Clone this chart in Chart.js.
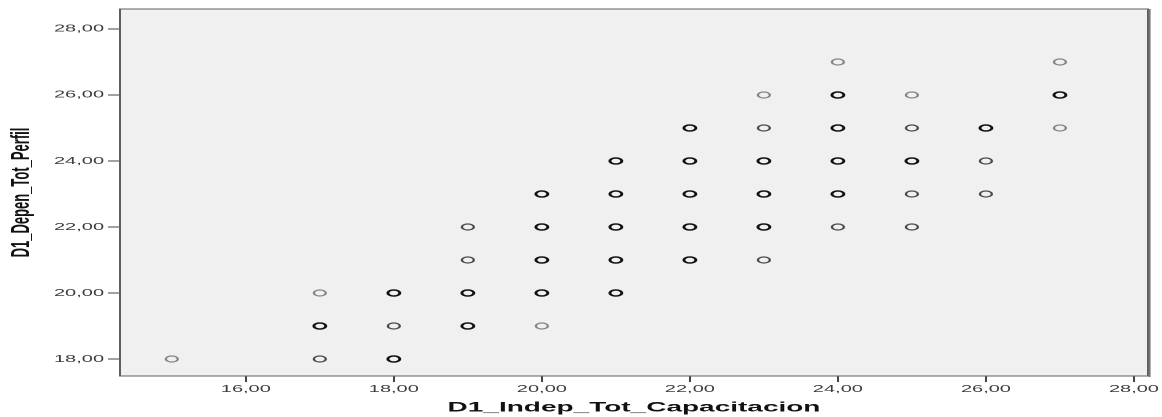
<!DOCTYPE html>
<html>
<head>
<meta charset="utf-8">
<script src="https://cdn.jsdelivr.net/npm/chart.js@4"></script>
<style>
  html, body { margin: 0; padding: 0; background: #fff; overflow: hidden; }
  /* the source picture is stretched 2x sideways, so draw at half width and stretch */
  #wrap { width: 581px; height: 417px; transform: scaleX(2); transform-origin: 0 0; }
  canvas { display: block; }
</style>
</head>
<body>
<div id="wrap"><canvas id="scatter" width="581" height="417"></canvas></div>
<script>
// one entry per plotted position; counts = rough number of overlapping cases (darker = more)
const xVals  = [15, 17, 17, 17, 18, 18, 18, 19, 19, 19, 19, 20, 20, 20, 20, 20, 21, 21, 21, 21, 21,
                22, 22, 22, 22, 22, 23, 23, 23, 23, 23, 23, 24, 24, 24, 24, 24, 24, 25, 25, 25, 25, 25,
                26, 26, 26, 27, 27, 27];
const yVals  = [18, 20, 19, 18, 20, 19, 18, 22, 21, 20, 19, 23, 22, 21, 20, 19, 24, 23, 22, 21, 20,
                25, 24, 23, 22, 21, 26, 25, 24, 23, 22, 21, 27, 26, 25, 24, 23, 22, 26, 25, 24, 23, 22,
                25, 24, 23, 27, 26, 25];
const counts = [1, 1, 3, 2, 3, 2, 3, 2, 2, 3, 3, 3, 3, 3, 3, 1, 3, 3, 3, 3, 3,
                3, 3, 3, 3, 3, 1, 2, 3, 3, 3, 2, 1, 3, 3, 3, 3, 2, 1, 2, 3, 2, 2,
                3, 2, 2, 1, 3, 1];
const xTicks = [16, 18, 20, 22, 24, 26, 28];
const yTicks = [18, 20, 22, 24, 26, 28];
const xTitle = 'D1_Indep_Tot_Capacitacion';
const yTitle = 'D1_Depen_Tot_Perfil';

const shade = c => c >= 3 ? '#111111' : c === 2 ? '#4a4a4a' : '#858585';
const fmt = v => v.toFixed(2).replace('.', ',');
const FONT = "'Liberation Sans', Arial, sans-serif";

const plotBg = {
  id: 'plotBg',
  beforeDraw(chart) {
    const { ctx, chartArea: a } = chart;
    ctx.save();
    ctx.fillStyle = '#f0f0f0';
    ctx.fillRect(a.left, a.top, a.right - a.left, a.bottom - a.top);
    ctx.restore();
  },
  afterDraw(chart) {
    const { ctx, chartArea: a } = chart;
    ctx.save();
    ctx.strokeStyle = '#5e5e5e';
    ctx.lineWidth = 1;
    ctx.strokeRect(a.left, a.top, a.right - a.left, a.bottom - a.top);
    ctx.strokeStyle = '#777';
    ctx.beginPath();
    ctx.moveTo(a.right + 0.8, a.top);
    ctx.lineTo(a.right + 0.8, a.bottom + 1);
    ctx.stroke();
    ctx.restore();
  }
};

new Chart(document.getElementById('scatter'), {
  type: 'scatter',
  data: {
    datasets: [{
      data: xVals.map((x, i) => ({ x, y: yVals[i] })),
      pointStyle: 'circle',
      pointRadius: 3,
      pointHoverRadius: 3,
      pointBorderWidth: counts.map(c => c >= 3 ? 1.5 : 1.2),
      pointBorderColor: counts.map(shade),
      pointBackgroundColor: 'rgba(0,0,0,0)'
    }]
  },
  options: {
    responsive: false,
    maintainAspectRatio: false,
    devicePixelRatio: 2,
    animation: false,
    layout: { padding: { top: 9, right: 7, left: 0, bottom: 0 } },
    plugins: { legend: { display: false }, tooltip: { enabled: false } },
    scales: {
      x: {
        type: 'linear',
        min: 14.3,
        max: 28.19,
        afterBuildTicks: s => { s.ticks = xTicks.map(v => ({ value: v })); },
        afterFit: s => { s.height = 41; },
        grid: { drawOnChartArea: false, drawTicks: true, tickLength: 6, color: '#444', lineWidth: 1 },
        border: { display: true, color: '#5e5e5e', width: 1 },
        ticks: { callback: v => fmt(v), color: '#3c3c3c', padding: 1, maxRotation: 0,
                 autoSkip: false, font: { family: FONT, size: 10 } },
        title: { display: true, text: xTitle, color: '#111',
                 padding: { top: 0, bottom: 1 }, font: { family: FONT, size: 14, weight: 'bold' } }
      },
      y: {
        type: 'linear',
        min: 17.485,
        max: 28.606,
        afterBuildTicks: s => { s.ticks = yTicks.map(v => ({ value: v })); },
        afterFit: s => { s.width = 60; },
        grid: { drawOnChartArea: false, drawTicks: true, tickLength: 6, color: '#444', lineWidth: 1 },
        border: { display: true, color: '#5e5e5e', width: 1 },
        ticks: { callback: v => fmt(v), color: '#3c3c3c', padding: 2,
                 autoSkip: false, font: { family: FONT, size: 10 } },
        title: { display: true, text: yTitle, color: '#111',
                 padding: { top: 3, bottom: 0 }, font: { family: FONT, size: 13, weight: 'bold' } }
      }
    }
  },
  plugins: [plotBg]
});
</script>
</body>
</html>
